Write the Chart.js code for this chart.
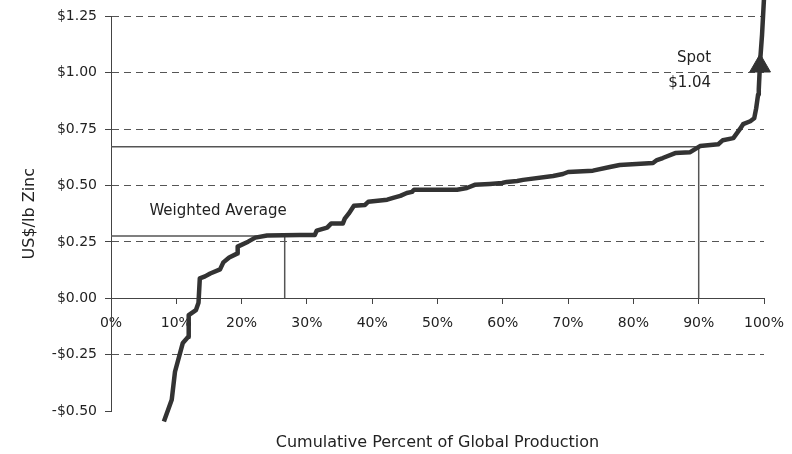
<!DOCTYPE html>
<html>
<head>
<meta charset="utf-8">
<script src="https://cdn.jsdelivr.net/npm/chart.js@4/dist/chart.umd.min.js"></script>
<style>
  html, body { margin: 0; padding: 0; background: #fff; }
  #costCurve { display: block; }
</style>
</head>
<body>
<canvas id="costCurve" width="792" height="454"></canvas>
<script>
// zinc cost curve: cumulative share of global production (%) vs cash cost (US$/lb)
const cumulativePct = [8.1, 9.3, 9.8, 11.0, 11.8, 11.9, 13.0, 13.4, 13.6, 14.4, 15.2, 16.7, 17.2, 18.1, 19.3, 19.4,
  21.0, 22.1, 23.9, 28.9, 31.2, 31.5, 33.1, 33.7, 35.5, 35.8, 36.4, 37.2, 38.9, 39.4, 42.3, 43.2, 44.3, 45.3, 46.1,
  46.4, 53.0, 54.5, 55.7, 58.0, 59.9, 60.6, 62.2, 63.1, 67.7, 69.2, 70.0, 73.8, 76.4, 77.9, 83.0, 83.6, 84.5, 86.4,
  88.7, 89.7, 90.2, 93.0, 93.7, 95.3, 96.3, 96.8, 97.9, 98.5, 98.8, 99.1, 99.2, 99.4, 99.7, 100.0];
const cashCost = [-0.547, -0.45, -0.326, -0.198, -0.172, -0.075, -0.053, -0.02, 0.088, 0.097, 0.11, 0.128, 0.159,
  0.181, 0.198, 0.229, 0.251, 0.269, 0.278, 0.28, 0.28, 0.30, 0.313, 0.331, 0.331, 0.353, 0.375, 0.41, 0.414, 0.428,
  0.437, 0.445, 0.454, 0.467, 0.472, 0.481, 0.481, 0.489, 0.503, 0.507, 0.511, 0.516, 0.52, 0.525, 0.542, 0.551,
  0.56, 0.566, 0.582, 0.591, 0.60, 0.613, 0.622, 0.644, 0.648, 0.666, 0.675, 0.683, 0.701, 0.71, 0.75, 0.772, 0.785,
  0.798, 0.842, 0.904, 0.926, 1.049, 1.168, 1.33];

// reference lines
const weightedAvgPct = 26.6;
const weightedAvgCost = 0.276;
const ninetyPct = 90;
const ninetyPctCost = 0.672;

// spot price arrow
const spotPrice = 1.04;
const spotArrowPct = 99.4;
const spotArrowCost = 1.03;

// axes
const pctTicks = [0, 10, 20, 30, 40, 50, 60, 70, 80, 90, 100];
const pctLabels = ['0%', '10%', '20%', '30%', '40%', '50%', '60%', '70%', '80%', '90%', '100%'];
const costTicks = [-0.5, -0.25, 0, 0.25, 0.5, 0.75, 1.0, 1.25];
const costLabels = ['-$0.50', '-$0.25', '$0.00', '$0.25', '$0.50', '$0.75', '$1.00', '$1.25'];

const xTitle = 'Cumulative Percent of Global Production';
const yTitle = 'US$/lb Zinc';

const FONT = '"DejaVu Sans", sans-serif';
const INK = '#222';
const AXIS = '#444';

const textLabels = {
    id: 'textLabels',
    afterDatasetsDraw(chart) {
        const { ctx, chartArea, scales: { x, y } } = chart;
        ctx.save();
        ctx.fillStyle = INK;
        ctx.textBaseline = 'middle';

        ctx.font = '15px ' + FONT;
        ctx.textAlign = 'center';
        ctx.fillText('Weighted Average', x.getPixelForValue(16.4), y.getPixelForValue(0.388));
        ctx.textAlign = 'right';
        ctx.fillText('Spot', x.getPixelForValue(91.9), y.getPixelForValue(1.063));
        ctx.fillText('$' + spotPrice.toFixed(2), x.getPixelForValue(91.9), y.getPixelForValue(0.952));

        ctx.font = '16px ' + FONT;
        ctx.textAlign = 'center';
        ctx.fillText(xTitle, (chartArea.left + chartArea.right) / 2, 443);

        ctx.translate(30, (chartArea.top + chartArea.bottom) / 2);
        ctx.rotate(-Math.PI / 2);
        ctx.fillText(yTitle, 0, 0);
        ctx.restore();
    }
};

const ctx = document.getElementById('costCurve').getContext('2d');
const chart = new Chart(ctx, {
    type: 'line',
    data: {
        datasets: [
            {
                label: 'Cost curve',
                data: cumulativePct.map((p, i) => ({ x: p, y: cashCost[i] })),
                borderColor: '#333',
                borderWidth: 4.5,
                borderJoinStyle: 'round',
                pointRadius: 0,
                tension: 0,
                clip: false
            },
            {
                label: 'Spot',
                type: 'scatter',
                data: [{ x: spotArrowPct, y: spotArrowCost }],
                pointStyle: 'triangle',
                pointRadius: 12,
                backgroundColor: '#333',
                borderColor: '#333',
                borderWidth: 1,
                clip: false
            },
            {
                label: 'Weighted average',
                data: [
                    { x: 0, y: weightedAvgCost },
                    { x: weightedAvgPct, y: weightedAvgCost },
                    { x: weightedAvgPct, y: 0 }
                ],
                borderColor: '#555',
                borderWidth: 1.5,
                pointRadius: 0,
                tension: 0
            },
            {
                label: '90th percentile',
                data: [
                    { x: 0, y: ninetyPctCost },
                    { x: ninetyPct, y: ninetyPctCost },
                    { x: ninetyPct, y: 0 }
                ],
                borderColor: '#555',
                borderWidth: 1.5,
                pointRadius: 0,
                tension: 0
            }
        ]
    },
    options: {
        responsive: false,
        animation: false,
        layout: { padding: { left: 0, top: 14, right: 28, bottom: 43 } },
        plugins: {
            legend: { display: false },
            tooltip: { enabled: false }
        },
        scales: {
            x: {
                type: 'linear',
                min: 0,
                max: 100,
                position: { y: 0 },
                afterBuildTicks: (scale) => { scale.ticks = pctTicks.map(v => ({ value: v })); },
                afterFit: (scale) => { scale.paddingLeft = 0; scale.paddingRight = 0; },
                ticks: {
                    callback: (v) => pctLabels[pctTicks.indexOf(v)],
                    font: { family: FONT, size: 14 },
                    color: INK,
                    padding: 12,
                    maxRotation: 0,
                    autoSkip: false
                },
                grid: {
                    drawOnChartArea: false,
                    drawTicks: true,
                    tickLength: 5,
                    tickColor: AXIS
                },
                border: { display: true, color: AXIS, width: 1 }
            },
            y: {
                type: 'linear',
                min: -0.5,
                max: 1.25,
                afterBuildTicks: (scale) => { scale.ticks = costTicks.map(v => ({ value: v })); },
                afterFit: (scale) => { scale.width = 111; },
                ticks: {
                    callback: (v) => costLabels[costTicks.indexOf(v)],
                    font: { family: FONT, size: 14 },
                    color: INK,
                    padding: 8,
                    autoSkip: false
                },
                grid: {
                    color: (c) => (c.tick && c.tick.value === -0.5) ? 'rgba(0,0,0,0)' : '#555',
                    lineWidth: 1,
                    drawTicks: true,
                    tickLength: 6,
                    tickColor: AXIS
                },
                border: { display: true, color: AXIS, width: 1, dash: [7, 5] }
            }
        }
    },
    plugins: [textLabels]
});
</script>
</body>
</html>
